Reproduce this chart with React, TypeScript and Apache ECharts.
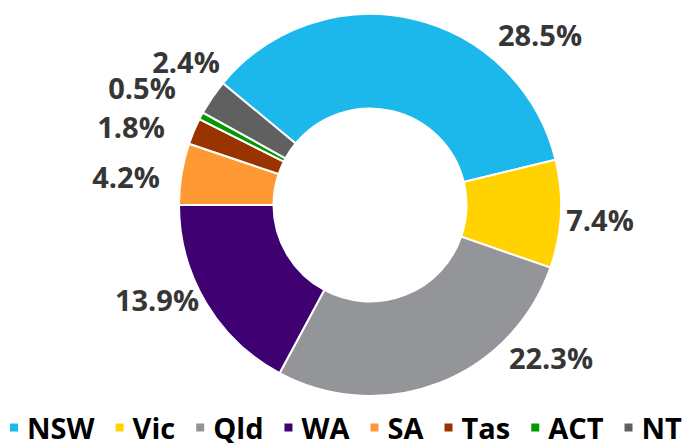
import React, { useEffect, useRef } from "react";
import * as echarts from "echarts";

const categories = ["NSW", "Vic", "Qld", "WA", "SA", "Tas", "ACT", "NT"];
const shares = [28.5, 7.4, 22.3, 13.9, 4.2, 1.8, 0.5, 2.4];
const colors = ["#1CB8EB", "#FFD200", "#939598", "#3F0072", "#FF9933", "#993300", "#009900", "#606060"];
// label anchor positions (styling only)
const labelPos: [number, number][] = [
  [540, 34],
  [600, 219],
  [551, 357],
  [157, 299],
  [126, 176],
  [131, 126],
  [142, 87],
  [186, 61],
];

export default function App() {
  const ref = useRef<HTMLDivElement>(null);
  useEffect(() => {
    document.body.style.margin = "0";
    const chart = echarts.init(ref.current!, null, { renderer: "svg" });
    chart.setOption({
      animation: false,
      backgroundColor: "#ffffff",
      legend: {
        data: categories,
        left: 3,
        top: 408,
        width: 700,
        padding: [5, 0, 5, 5],
        icon: "rect",
        itemWidth: 10,
        itemHeight: 10,
        itemGap: 19,
        textStyle: {
          fontFamily: "Open Sans",
          fontWeight: "bold",
          fontSize: 29,
          lineHeight: 24,
          color: "#000",
          padding: [0, 0, 0, 3],
        },
      },
      series: [
        {
          type: "pie",
          center: [370, 205],
          radius: [96.5, 191],
          startAngle: 140.4,
          clockwise: true,
          avoidLabelOverlap: false,
          itemStyle: { borderColor: "#ffffff", borderWidth: 2 },
          label: {
            show: true,
            position: "outside",
            formatter: (p: any) => p.value.toFixed(1) + "%",
            fontFamily: "Open Sans",
            fontWeight: "bold",
            fontSize: 29,
            color: "#363636",
          },
          labelLine: { show: false },
          labelLayout: (p: any) => ({
            x: labelPos[p.dataIndex][0],
            y: labelPos[p.dataIndex][1],
            align: "center",
            verticalAlign: "middle",
          }),
          emphasis: { disabled: true },
          data: categories.map((c, i) => ({
            name: c,
            value: shares[i],
            itemStyle: { color: colors[i] },
          })),
        },
      ],
    });
    return () => chart.dispose();
  }, []);
  return <div ref={ref} style={{ width: 690, height: 443 }} />;
}
